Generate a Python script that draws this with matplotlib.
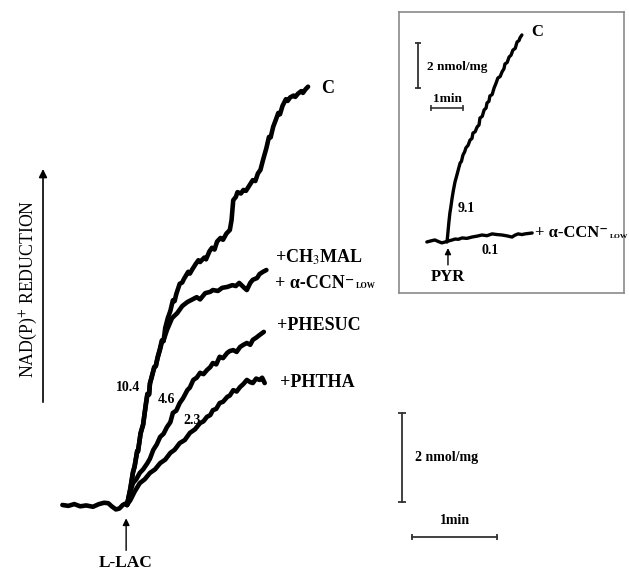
import matplotlib
matplotlib.use("Agg")
import matplotlib.pyplot as plt

plt.rcParams['font.family'] = ['Liberation Serif', 'DejaVu Serif']
plt.rcParams['mathtext.fontset'] = 'stix'

# ---------------- main panel data (time in min after L-LAC, NAD(P)H in nmol/mg) -------------
base_t = [-0.76, -0.69, -0.62, -0.55, -0.48, -0.40, -0.33, -0.27, -0.22, -0.18, -0.13, -0.09, -0.05, -0.02, 0.0]
base_v = [0.0, -0.02, 0.02, -0.03, -0.01, -0.04, 0.02, 0.05, 0.04, -0.03, -0.10, -0.08, 0.0, 0.03, 0.0]

c_t = [0.00, 0.04, 0.07, 0.09, 0.12, 0.13, 0.16, 0.19, 0.22, 0.24, 0.26, 0.27, 0.29, 0.32, 0.34, 0.36,
       0.39, 0.41, 0.43, 0.45, 0.48, 0.51, 0.54, 0.56, 0.58, 0.62, 0.65, 0.67, 0.72, 0.74, 0.77, 0.81,
       0.84, 0.86, 0.91, 0.93, 0.97, 1.00, 1.03, 1.06, 1.10, 1.13, 1.17, 1.21, 1.23, 1.25, 1.28, 1.30,
       1.34, 1.37, 1.40, 1.44, 1.48, 1.51, 1.54, 1.57, 1.60, 1.64, 1.67, 1.69, 1.72, 1.75, 1.78, 1.80,
       1.83, 1.87, 1.89, 1.92, 1.96, 1.98, 2.01, 2.05, 2.07, 2.10, 2.13]
c_v = [0.00, 0.38, 0.74, 0.86, 1.22, 1.20, 1.62, 1.80, 2.25, 2.50, 2.48, 2.74, 2.86, 3.10, 3.12, 3.32,
       3.53, 3.70, 3.68, 3.98, 4.20, 4.36, 4.60, 4.58, 4.74, 4.97, 5.00, 5.08, 5.24, 5.20, 5.30, 5.42,
       5.50, 5.46, 5.56, 5.52, 5.70, 5.78, 5.74, 5.92, 6.00, 5.96, 6.10, 6.18, 6.40, 6.85, 6.92, 7.03,
       7.00, 7.08, 7.06, 7.18, 7.30, 7.28, 7.45, 7.53, 7.75, 8.02, 8.27, 8.26, 8.50, 8.65, 8.81, 8.78,
       8.97, 9.12, 9.08, 9.16, 9.20, 9.17, 9.24, 9.30, 9.26, 9.34, 9.40]

mal_t = [0.00, 0.04, 0.07, 0.09, 0.12, 0.13, 0.16, 0.19, 0.22, 0.24, 0.26, 0.27, 0.29, 0.32, 0.34,
         0.36, 0.39, 0.41, 0.43, 0.47, 0.53, 0.59, 0.65, 0.71, 0.76, 0.82, 0.86, 0.92, 0.98, 1.01,
         1.07, 1.12, 1.18, 1.24, 1.28, 1.32, 1.38, 1.41, 1.45, 1.48, 1.53, 1.56, 1.60, 1.64]
mal_v = [0.00, 0.36, 0.72, 0.88, 1.20, 1.22, 1.60, 1.82, 2.22, 2.48, 2.50, 2.72, 2.88, 3.08, 3.14,
         3.30, 3.50, 3.66, 3.70, 3.93, 4.20, 4.31, 4.47, 4.56, 4.61, 4.67, 4.62, 4.76, 4.79, 4.83,
         4.81, 4.88, 4.90, 4.94, 4.92, 4.99, 4.88, 4.83, 4.99, 5.06, 5.10, 5.19, 5.24, 5.28]

phesuc_t = [0.00, 0.04, 0.07, 0.11, 0.15, 0.19, 0.24, 0.27, 0.31, 0.35, 0.39, 0.43, 0.47, 0.51, 0.54,
            0.58, 0.62, 0.66, 0.71, 0.74, 0.78, 0.82, 0.86, 0.90, 0.94, 0.98, 1.01, 1.05, 1.09, 1.13,
            1.18, 1.21, 1.25, 1.29, 1.33, 1.37, 1.41, 1.45, 1.48, 1.52, 1.56, 1.61]
phesuc_v = [0.00, 0.30, 0.49, 0.58, 0.72, 0.80, 0.94, 1.04, 1.24, 1.36, 1.53, 1.60, 1.75, 1.86, 2.07,
            2.12, 2.29, 2.40, 2.58, 2.64, 2.81, 2.86, 2.97, 2.94, 3.03, 3.10, 3.19, 3.16, 3.33, 3.30,
            3.42, 3.46, 3.48, 3.44, 3.55, 3.60, 3.64, 3.60, 3.71, 3.76, 3.82, 3.89]

phtha_t = [0.00, 0.04, 0.09, 0.15, 0.21, 0.27, 0.33, 0.39, 0.45, 0.51, 0.56, 0.62, 0.68, 0.74, 0.80,
           0.86, 0.90, 0.94, 0.98, 1.01, 1.05, 1.09, 1.13, 1.18, 1.21, 1.25, 1.29, 1.33, 1.37, 1.41,
           1.45, 1.48, 1.52, 1.56, 1.59, 1.62]
phtha_v = [0.00, 0.11, 0.30, 0.49, 0.58, 0.72, 0.80, 0.94, 1.02, 1.17, 1.24, 1.39, 1.46, 1.62, 1.70,
           1.84, 1.88, 1.98, 2.02, 2.13, 2.16, 2.29, 2.32, 2.43, 2.46, 2.58, 2.55, 2.65, 2.72, 2.81,
           2.76, 2.74, 2.84, 2.81, 2.86, 2.74]

main_labels = ["C", "+CH$_3$MAL", "+ α-CCN\u207b", "+PHESUC", "+PHTHA"]
main_rates = ["10.4", "4.6", "2.3"]

# ---------------- inset data (time in min after PYR, nmol/mg) ----------------
ins_c_t = [0.00, 0.03, 0.06, 0.09, 0.12, 0.16, 0.20, 0.25, 0.31, 0.36, 0.41, 0.45, 0.50, 0.55, 0.59,
           0.66, 0.72, 0.78, 0.81, 0.88, 0.94, 1.00, 1.03, 1.10, 1.16, 1.22, 1.25, 1.31, 1.34, 1.41,
           1.47, 1.53, 1.59, 1.66, 1.72, 1.78, 1.81, 1.88, 1.94, 2.00, 2.06, 2.13, 2.19, 2.25, 2.28, 2.34]
ins_c_v = [0.00, 0.44, 0.90, 1.29, 1.55, 1.96, 2.30, 2.67, 2.98, 3.25, 3.51, 3.58, 3.87, 4.00, 4.18,
           4.30, 4.53, 4.60, 4.84, 4.90, 5.11, 5.20, 5.51, 5.58, 5.87, 5.95, 6.18, 6.25, 6.49, 6.55,
           6.84, 7.05, 7.29, 7.35, 7.56, 7.70, 7.91, 7.98, 8.22, 8.30, 8.53, 8.60, 8.89, 8.95, 9.07, 9.20]

ins_b_t = [-0.63, -0.50, -0.38, -0.27, -0.16, -0.06, 0.03, 0.14, 0.25, 0.36, 0.47, 0.62, 0.78, 0.94,
           1.09, 1.25, 1.41, 1.56, 1.72, 1.88, 2.03, 2.12, 2.22, 2.34, 2.44, 2.55, 2.66]
ins_b_v = [0.00, 0.05, 0.09, 0.02, -0.04, 0.00, 0.04, 0.08, 0.13, 0.12, 0.18, 0.16, 0.22, 0.26,
           0.31, 0.28, 0.36, 0.33, 0.31, 0.27, 0.22, 0.30, 0.36, 0.33, 0.36, 0.38, 0.40]


def ccn_label(axis, x, y, size):
    """'+ α-CCN⁻' followed by a tiny subscript LOW."""
    t = axis.text(x, y, main_labels[2], fontsize=size, ha='left', va='center',
                  fontweight='bold', color='black')
    axis.annotate('LOW', xy=(1, 0), xycoords=t, xytext=(1.0, 1.5), textcoords='offset points',
                  fontsize=size * 0.45, fontweight='bold', ha='left', va='bottom', color='black')


# ---------------- figure ----------------
fig = plt.figure(figsize=(6.29, 5.72), dpi=100)
ax = fig.add_axes([0, 0, 1, 1])
ax.set_xlim(-1.494, 5.906)
ax.set_ylim(-1.506, 11.348)
ax.axis('off')

trace_kw = dict(color='black', lw=3.3, solid_capstyle='round', solid_joinstyle='round')
ax.plot(base_t, base_v, **trace_kw)
ax.plot(phtha_t, phtha_v, **trace_kw)
ax.plot(phesuc_t, phesuc_v, **trace_kw)
ax.plot(mal_t, mal_v, **trace_kw)
ax.plot(c_t, c_v, **trace_kw)

bold = dict(fontweight='bold', color='black')
ax.text(2.28, 9.37, main_labels[0], fontsize=13, ha='left', va='center', **bold)
ax.text(1.74, 5.57, main_labels[1], fontsize=13, ha='left', va='center', **bold)
ccn_label(ax, 1.74, 4.97, 13)
ax.text(1.76, 4.04, main_labels[3], fontsize=13, ha='left', va='center', **bold)
ax.text(1.80, 2.76, main_labels[4], fontsize=13, ha='left', va='center', **bold)

ax.text(0.15, 2.63, main_rates[0], fontsize=10, ha='right', va='center', **bold)
ax.text(0.365, 2.36, main_rates[1], fontsize=10, ha='left', va='center', **bold)
ax.text(0.66, 1.89, main_rates[2], fontsize=10, ha='left', va='center', **bold)

# y label arrow
ax.annotate('', xy=(-0.988, 7.55), xytext=(-0.988, 2.31),
            arrowprops=dict(arrowstyle='-|>', lw=1.2, color='black', mutation_scale=12, shrinkA=0, shrinkB=0))
ax.text(-1.165, 4.85, 'NAD(P)$^{+}$ REDUCTION', rotation=90, fontsize=12.8, ha='center', va='center', color='black')

# L-LAC arrow
ax.annotate('', xy=(-0.01, -0.30), xytext=(-0.01, -1.02),
            arrowprops=dict(arrowstyle='-|>', lw=1.0, color='black', mutation_scale=10, shrinkA=0, shrinkB=0))
ax.text(-0.02, -1.30, 'L-LAC', fontsize=12.5, ha='center', va='center', **bold)

# main scale bars
sb = '#333333'
ax.plot([3.235, 3.235], [0.07, 2.07], color=sb, lw=1.3)
ax.plot([3.235, 3.235], [0.07, 2.07], ls='none', marker='_', ms=6, mew=1.3, color=sb)
ax.text(3.39, 1.06, '2 nmol/mg', fontsize=10, ha='left', va='center', **bold)
ax.plot([3.353, 4.353], [-0.72, -0.72], color=sb, lw=1.3)
ax.plot([3.353, 4.353], [-0.72, -0.72], ls='none', marker='|', ms=5, mew=1.3, color=sb)
ax.text(3.86, -0.34, '1min', fontsize=10, ha='center', va='center', **bold)

# ---------------- inset ----------------
ins = fig.add_axes([399 / 629, (572 - 293) / 572, 225 / 629, 281 / 572])
ins.set_xlim(-1.5, 5.53)
ins.set_ylim(-2.267, 10.22)
ins.set_xticks([])
ins.set_yticks([])
for s in ins.spines.values():
    s.set_color('#8a8a8a')
    s.set_linewidth(1.2)

ins_kw = dict(color='black', lw=2.4, solid_capstyle='round', solid_joinstyle='round')
ins.plot(ins_b_t, ins_b_v, **ins_kw)
ins.plot(ins_c_t, ins_c_v, **ins_kw)

ins.text(2.62, 9.33, 'C', fontsize=12, ha='left', va='center', **bold)
ins.plot([-0.906, -0.906], [6.84, 8.84], color=sb, lw=1.3)
ins.plot([-0.906, -0.906], [6.84, 8.84], ls='none', marker='_', ms=5, mew=1.3, color=sb)
ins.text(-0.63, 7.78, '2 nmol/mg', fontsize=9.5, ha='left', va='center', **bold)
ins.plot([-0.5, 0.5], [5.96, 5.96], color=sb, lw=1.2)
ins.plot([-0.5, 0.5], [5.96, 5.96], ls='none', marker='|', ms=4, mew=1.2, color=sb)
ins.text(0.0, 6.36, '1min', fontsize=9.5, ha='center', va='center', **bold)
ins.text(0.34, 1.51, '9.1', fontsize=10, ha='left', va='center', **bold)
ins.text(1.34, -0.36, '0.1', fontsize=10, ha='center', va='center', **bold)
ccn_label(ins, 2.75, 0.40, 12)
ins.annotate('', xy=(0.03, -0.27), xytext=(0.03, -1.02),
             arrowprops=dict(arrowstyle='-|>', lw=1.0, color='black', mutation_scale=9, shrinkA=0, shrinkB=0))
ins.text(0.03, -1.56, 'PYR', fontsize=12, ha='center', va='center', **bold)

fig.savefig('out.png', dpi=100)
